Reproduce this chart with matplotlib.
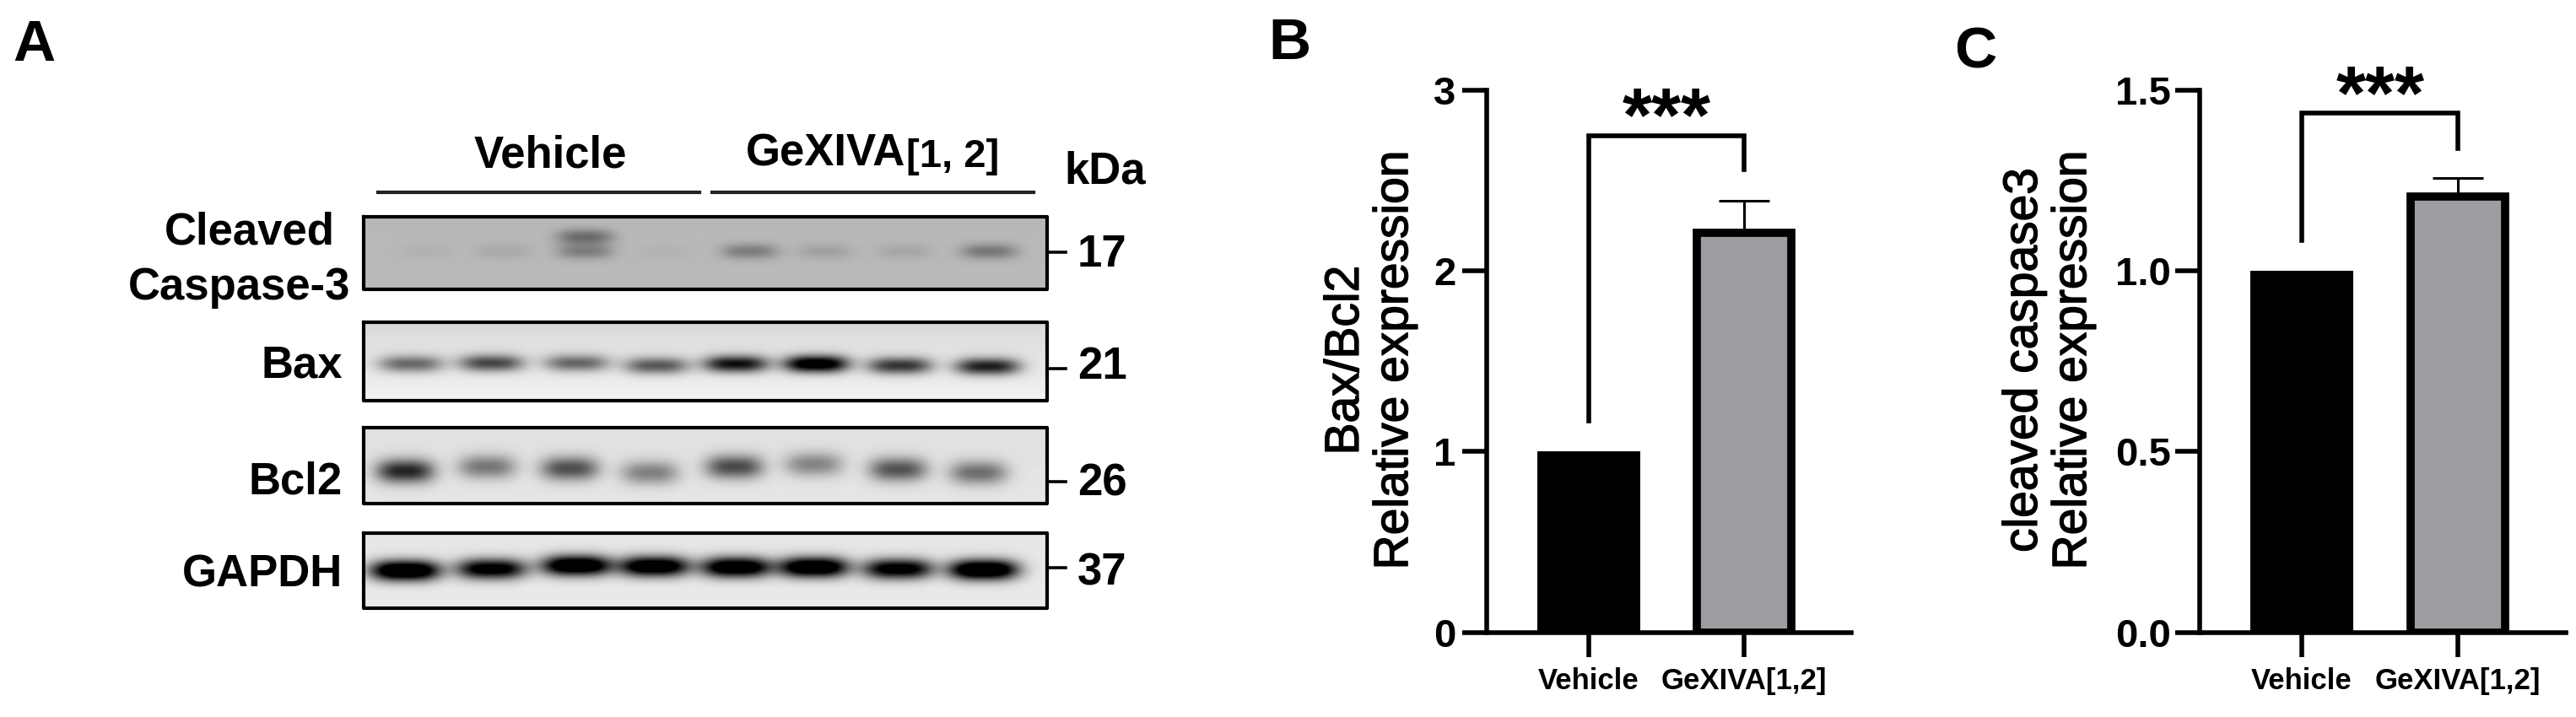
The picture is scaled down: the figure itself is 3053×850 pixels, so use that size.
import numpy as np
import matplotlib
matplotlib.use('Agg')
import matplotlib.pyplot as plt
import matplotlib.patheffects as pe

plt.rcParams['font.family'] = ['Liberation Sans', 'DejaVu Sans']

GROUPS = ['Vehicle', 'GeXIVA[1,2]']
BAX_VALUES = [1.0, 2.21]
BAX_ERRORS = [0, 0.18]
CASP_VALUES = [1.0, 1.205]
CASP_ERRORS = [0, 0.053]
BAX_TICKS = [0, 1, 2, 3]
BAX_TICK_LABELS = ['0', '1', '2', '3']
CASP_TICKS = [0, 0.5, 1.0, 1.5]
CASP_TICK_LABELS = ['0.0', '0.5', '1.0', '1.5']

BLOT_NAMES = ['Cleaved\nCaspase-3', 'Bax', 'Bcl2', 'GAPDH']
BLOT_KDA = ['17', '21', '26', '37']
# band darkness per lane, read by eye from the blots
CASP_BANDS = [0.04, 0.09, 0.32, 0.03, 0.33, 0.13, 0.10, 0.36]
CASP_UPPER = [0, 0, 0.42, 0, 0, 0, 0, 0]
BAX_BANDS = [0.55, 0.70, 0.56, 0.62, 0.95, 1.2, 0.78, 0.88]
BCL2_BANDS = [0.85, 0.48, 0.66, 0.44, 0.68, 0.42, 0.64, 0.52]
GAPDH_BANDS = [1.4, 1.15, 1.35, 1.3, 1.3, 1.35, 1.15, 1.4]

# pixel size of the reference, everything in panel A is placed on this grid
W, H = 3053, 850
fig = plt.figure(figsize=(W / 100, H / 100), dpi=100, facecolor='white')
base = fig.add_axes([0, 0, 1, 1])
base.set_xlim(0, W)
base.set_ylim(H, 0)
base.axis('off')


def make_blot(top, bottom, bands, lanes, rows, half_w, half_h, bg_top, bg_bottom):
    left, right = 431, 1241
    xs = np.arange(left, right)
    ys = np.arange(top, bottom)
    xx, yy = np.meshgrid(xs, ys)
    dark = np.zeros(xx.shape)
    for amount, cx, cy in zip(bands, lanes, rows):
        dark += amount * np.exp(-np.abs((xx - cx) / half_w) ** 3 - ((yy - cy) / half_h) ** 2)
    bg = np.linspace(bg_top, bg_bottom, len(ys))[:, None]
    img = bg * (1 - np.clip(dark, 0, 1))
    base.imshow(img, extent=[left, right, bottom, top], cmap='gray', vmin=0, vmax=1,
                aspect='auto', interpolation='bilinear')
    base.plot([left, right, right, left, left], [top, top, bottom, bottom, top],
              color='black', lw=3)


lanes_1 = [504, 596, 693, 788, 888, 977, 1072, 1172]
make_blot(257, 343, CASP_BANDS + CASP_UPPER, lanes_1 * 2, [298] * 8 + [281] * 8, 33, 9, 0.72, 0.73)
lanes_2 = [487, 582, 683, 778, 872, 967, 1066, 1170]
make_blot(382, 475, BAX_BANDS, lanes_2, [431, 430, 430, 433, 431, 431, 433, 434], 38, 10, 0.85, 0.95)
lanes_3 = [480, 577, 675, 770, 870, 964, 1064, 1159]
make_blot(507, 597, BCL2_BANDS, lanes_3, [558, 553, 555, 560, 553, 550, 556, 560], 34, 14, 0.88, 0.90)
lanes_4 = [480, 582, 683, 775, 872, 964, 1064, 1165]
make_blot(632, 721, GAPDH_BANDS, lanes_4, [676, 674, 670, 671, 672, 672, 674, 675], 41, 12, 0.90, 0.92)

base.set_xlim(0, W)
base.set_ylim(H, 0)

name_y = [None, 433, 572, 681]
base.text(397, 276, 'Cleaved', fontsize=38, fontweight='bold', ha='right', va='center')
base.text(415, 341, 'Caspase-3', fontsize=38, fontweight='bold', ha='right', va='center')
for name, y in zip(BLOT_NAMES[1:], name_y[1:]):
    base.text(406, y, name, fontsize=38, fontweight='bold', ha='right', va='center')

for kda, tick_y, text_y in zip(BLOT_KDA, [299, 437, 571, 673], [302, 435, 573, 679]):
    base.plot([1241, 1263], [tick_y, tick_y], color='black', lw=2.6)
    base.text(1277, text_y, kda, fontsize=38, fontweight='bold', ha='left', va='center')

base.plot([448, 829], [228, 228], color='#222222', lw=3)
base.plot([844, 1225], [228, 228], color='#222222', lw=3)
base.text(652, 184, 'Vehicle', fontsize=38, fontweight='bold', ha='center', va='center')
base.text(884, 182, 'GeXIVA', fontsize=38, fontweight='bold', ha='left', va='center')
base.text(1074, 186, '[1, 2]', fontsize=34, fontweight='bold', ha='left', va='center')
base.text(1261, 203, 'kDa', fontsize=38, fontweight='bold', ha='left', va='center')

base.text(40, 54, 'A', fontsize=50, fontweight='bold', ha='center', va='center')
base.text(1528, 52, 'B', fontsize=50, fontweight='bold', ha='center', va='center')
base.text(2341, 62, 'C', fontsize=50, fontweight='bold', ha='center', va='center')

heavier = [pe.withStroke(linewidth=1, foreground='black')]
base.text(1624, 427, 'Bax/Bcl2\nRelative expression', fontsize=41, rotation=90, ha='center',
          va='center', multialignment='center', linespacing=1.1, path_effects=heavier)
base.text(2428, 427, 'cleaved caspase3\nRelative expression', fontsize=41, rotation=90, ha='center',
          va='center', multialignment='center', linespacing=1.1, path_effects=heavier)
base.text(1975, 144, '***', fontsize=65, fontweight='bold', ha='center', va='center')
base.text(2821, 118, '***', fontsize=65, fontweight='bold', ha='center', va='center')


def bar_panel(px_left, px_right, xlim, ymax, values, errors, yticks, ylabels, bracket, pad, gray_w):
    ax = fig.add_axes([px_left / W, 1 - 749.6 / H, (px_right - px_left) / W, (749.6 - 106.8) / H])
    ax.patch.set_alpha(0)
    ax.set_xlim(*xlim)
    ax.set_ylim(0, ymax)
    ax.bar(0, values[0], width=0.663, color='black', zorder=2)
    ax.bar(1, values[1], width=gray_w, color='#9d9da1', edgecolor='black', linewidth=7, zorder=2)
    ax.errorbar([1], [values[1]], yerr=[[0], [errors[1]]], color='black', elinewidth=2.2,
                capsize=21.5, capthick=2.2, zorder=1, clip_on=False)
    ax.plot([0, 0, 1, 1], bracket, color='black', lw=4, solid_joinstyle='miter', clip_on=False)
    for side in ['top', 'right']:
        ax.spines[side].set_visible(False)
    for side in ['left', 'bottom']:
        ax.spines[side].set_linewidth(4)
    ax.set_xticks([0, 1])
    ax.set_xticklabels(GROUPS, fontsize=25, fontweight='bold')
    ax.set_yticks(yticks)
    ax.set_yticklabels(ylabels, fontsize=34, fontweight='bold')
    ax.tick_params(axis='x', length=21, width=4, pad=9)
    ax.tick_params(axis='y', length=21, width=4, pad=pad)
    return ax


bar_panel(1761.6, 2194, (-0.66, 1.69), 3, BAX_VALUES, BAX_ERRORS, BAX_TICKS, BAX_TICK_LABELS,
          [1.17, 2.747, 2.747, 2.56], 5, 0.61)
bar_panel(2607.4, 3040.6, (-0.652, 1.69), 1.5, CASP_VALUES, CASP_ERRORS, CASP_TICKS, CASP_TICK_LABELS,
          [1.083, 1.436, 1.436, 1.338], 3.5, 0.605)

fig.savefig('out.png', dpi=100, facecolor='white')
plt.close()
